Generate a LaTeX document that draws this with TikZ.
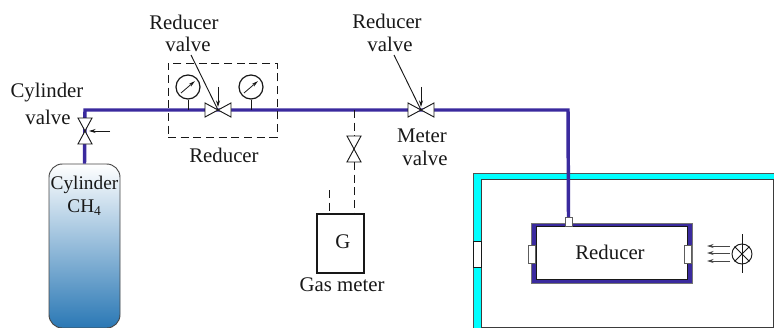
\documentclass[tikz,border=0pt]{standalone}
\usepackage{fontspec}
\setmainfont{Liberation Serif}
\usetikzlibrary{arrows.meta,calc}
\definecolor{pipeblue}{HTML}{3A2A9E}
\definecolor{roomcyan}{HTML}{00FFFF}
\definecolor{tankblue}{HTML}{2A78B5}
\definecolor{ink}{HTML}{181818}
\tikzset{
  x=0.75pt,y=-0.75pt,
  lbl/.style={inner sep=0pt,font=\fontsize{15.6pt}{17pt}\selectfont,text=ink,align=center},
  pipe/.style={draw=pipeblue,line width=2.6pt},
  thin line/.style={draw=ink,line width=0.7pt},
  dash line/.style={draw=ink,line width=0.7pt,dash pattern=on 6pt off 3.5pt},
  tip line/.style={draw=ink,line width=0.7pt,-{Stealth[length=5pt,width=3pt]}},
  valve shape/.style={draw=ink,line width=0.7pt,fill=white},
  gauge/.style={circle,draw=ink,line width=0.9pt,fill=white,minimum size=18pt,inner sep=0pt},
  port/.style={draw=ink!70,line width=0.6pt,fill=white},
}
\newcommand{\hvalve}[1]{%
  \draw[valve shape] ($(#1)+(-13,-7)$) -- ($(#1)+(-13,7)$) -- (#1) -- cycle;
  \draw[valve shape] ($(#1)+(13,-7)$) -- ($(#1)+(13,7)$) -- (#1) -- cycle;}
\newcommand{\vvalve}[1]{%
  \draw[valve shape] ($(#1)+(-7,-13)$) -- ($(#1)+(7,-13)$) -- (#1) -- cycle;
  \draw[valve shape] ($(#1)+(-7,13)$) -- ($(#1)+(7,13)$) -- (#1) -- cycle;}
\begin{document}
\begin{tikzpicture}
\useasboundingbox (0,0) rectangle (774,328);
% named points
\coordinate (corner) at (85,110);
\coordinate (bend) at (568,110);
\coordinate (cv) at (85,131);
\coordinate (rv) at (218,110);
\coordinate (mv) at (421,110);
\coordinate (tee) at (354,110);
\coordinate (gv) at (354,149);
\coordinate (cvarrow) at (110,131);
\coordinate (rvarrow) at (218,87);
\coordinate (mvarrow) at (421,87);
\coordinate (lead1) at (191,55);
\coordinate (lead2) at (394,55);
% room
\fill[roomcyan] (473,173) rectangle (774,328);
\draw[draw=ink!75,line width=0.7pt] (774,173) -- (473,173) -- (473,328);
\draw[draw=ink!85,fill=white,line width=0.7pt] (774,179) -- (481,179) -- (481,327) -- (774,327);
\draw[draw=ink!85,line width=0.7pt] (773,179) -- (773,327);
\draw[port,draw=ink] (473,241) rectangle (481,267);
% reducer chamber
\node[draw=ink!60,fill=pipeblue,minimum width=120.75pt,minimum height=45pt,inner sep=0pt] (chamberout) at (611.5,253) {};
\node[draw=ink,fill=white,line width=0.5pt,minimum width=113.25pt,minimum height=39.75pt,inner sep=0pt] (chamber) at (611.5,252.5) {};
\node[lbl] (chambertext) at (610,252) {Reducer};
\node[port,minimum width=5.25pt,minimum height=6.75pt,inner sep=0pt] (ptop) at (568.5,222) {};
\node[port,minimum width=5.25pt,minimum height=13.5pt,inner sep=0pt] (pleft) at (531.5,254) {};
\node[port,minimum width=5.25pt,minimum height=13.5pt,inner sep=0pt] (pright) at (687.5,254) {};
% cylinder
\node[draw=ink!80,line width=0.7pt,rounded corners=10pt,top color=white,bottom color=tankblue,minimum width=53.25pt,minimum height=123pt,inner sep=0pt] (tank) at (84.5,246) {};
\node[lbl,font=\fontsize{14.5pt}{17pt}\selectfont] (tanktext1) at (84.5,185) {Cylinder};
\node[lbl,font=\fontsize{14.5pt}{17pt}\selectfont] (tanktext2) at (84.5,208) {CH\textsubscript{4}};
% pipes
\draw[pipe] (ptop.north) -- (bend) -- (corner) -- (tank.north);
% dashed reducer box
\node[dash line,minimum width=81.75pt,minimum height=55.5pt,inner sep=0pt] (redbox) at (222.5,100) {};
% gauges
\node[gauge] (g1) at (188,87) {};
\node[gauge] (g2) at (251,87) {};
\coordinate (g1f) at (188,110);
\coordinate (g2f) at (251,110);
\draw[thin line] (g1.south) -- (g1f);
\draw[thin line] (g2.south) -- (g2f);
\draw[ink,line width=0.6pt,-{Stealth[length=5pt,width=2.5pt]}] ($(g1)+(-7,6)$) -- ($(g1)+(7,-6)$);
\draw[ink,line width=0.6pt,-{Stealth[length=5pt,width=2.5pt]}] ($(g2)+(-7,6)$) -- ($(g2)+(7,-6)$);
% valves
\vvalve{cv}
\hvalve{rv}
\hvalve{mv}
\vvalve{gv}
\draw[tip line] (cvarrow) -- ($(cv)+(4,0)$);
\draw[tip line] (rvarrow) -- ($(rv)+(0,-3)$);
\draw[tip line] (mvarrow) -- ($(mv)+(0,-3)$);
\draw[thin line] (lead1) -- (rv);
\draw[thin line] (lead2) -- (mv);
% gas meter
\node[draw=ink,line width=1.3pt,minimum width=35.25pt,minimum height=44.25pt,inner sep=0pt] (meter) at (340.5,243.5) {};
\node[lbl] (gtext) at (343,242) {G};
\coordinate (stub) at (329,190);
\draw[dash line] (tee) -- ($(gv)+(0,-13)$);
\draw[dash line] ($(gv)+(0,13)$) -- (gv |- meter.north);
\draw[dash line] (stub) -- (stub |- meter.north);
% lamp
\node[circle,draw=ink,line width=0.7pt,minimum size=15pt,inner sep=0pt] (lamp) at (742,254) {};
\draw[thin line] (lamp.north west) -- (lamp.south east);
\draw[thin line] (lamp.north east) -- (lamp.south west);
\draw[thin line] ($(lamp)+(0,-20)$) -- ($(lamp)+(0,19)$);
\draw[tip line,draw=ink!80] ($(lamp)+(-12,-8)$) -- ($(lamp)+(-35,-8)$);
\draw[tip line,draw=ink!80] ($(lamp)+(-12,-1)$) -- ($(lamp)+(-35,-1)$);
\draw[tip line,draw=ink!80] ($(lamp)+(-12,7)$) -- ($(lamp)+(-35,7)$);
% labels
\node[lbl] (l1a) at (47,93) {Cylinder};
\node[lbl] (l1b) at (48,117) {valve};
\node[lbl] (l2a) at (184,22) {Reducer};
\node[lbl] (l2b) at (188,44) {valve};
\node[lbl] (l3) at (224,155) {Reducer};
\node[lbl] (l4a) at (387,21) {Reducer};
\node[lbl] (l4b) at (390,44) {valve};
\node[lbl] (l5a) at (422,136) {Meter};
\node[lbl] (l5b) at (425,158) {valve};
\node[lbl] (l6) at (342,285) {Gas meter};
\end{tikzpicture}
\end{document}
